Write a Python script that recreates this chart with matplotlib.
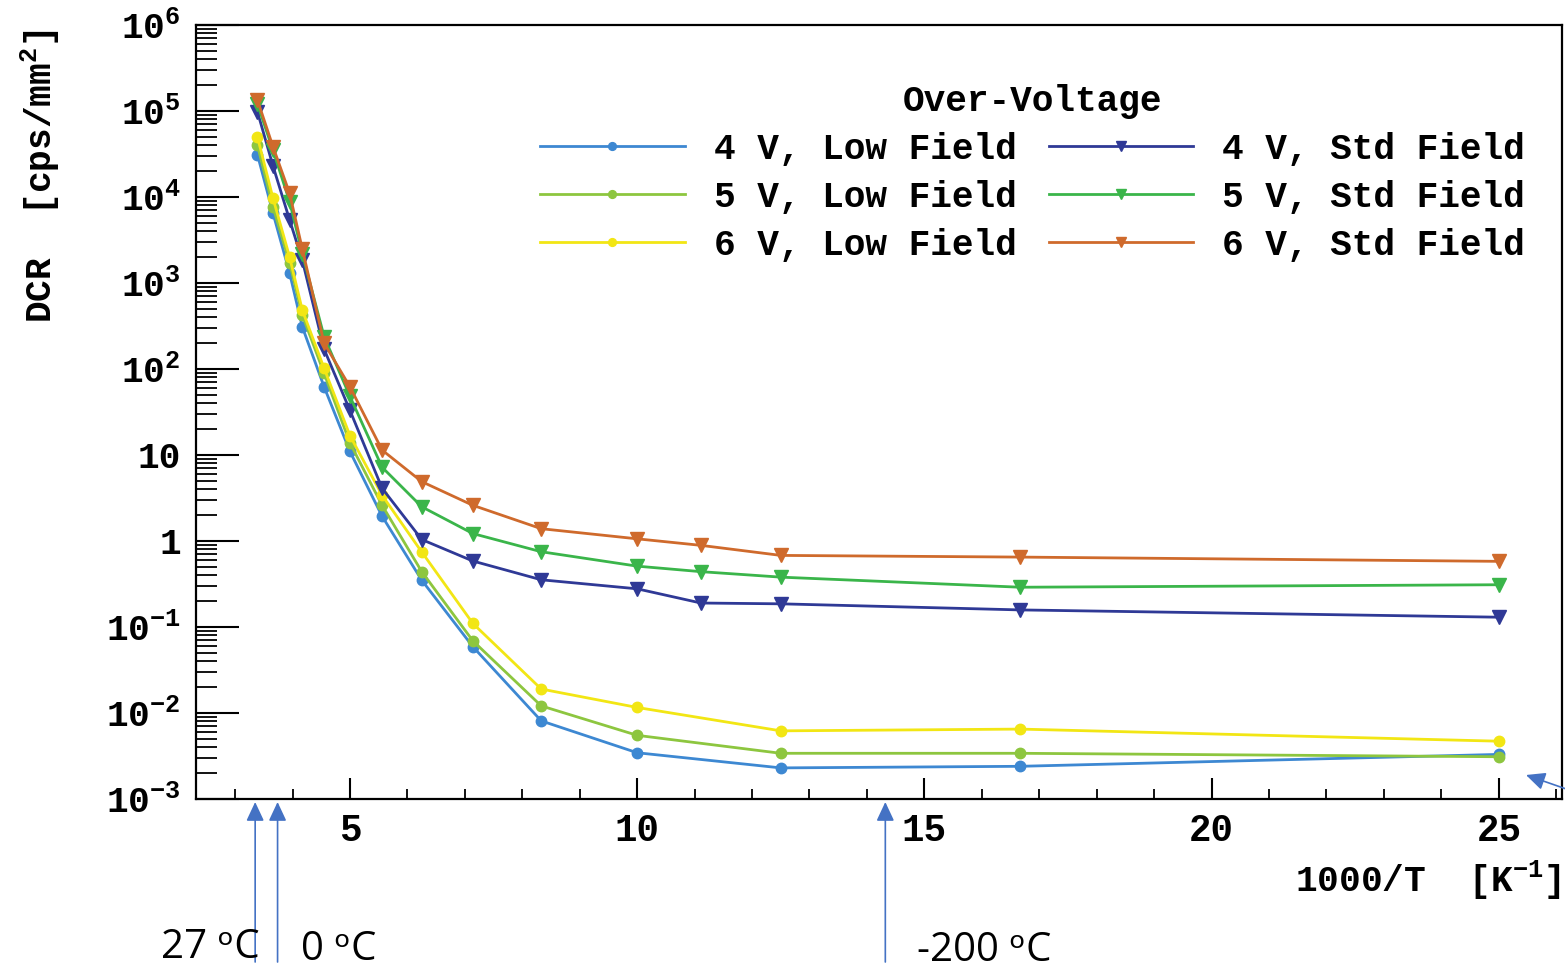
import matplotlib
matplotlib.use("Agg")
import matplotlib.pyplot as plt
from matplotlib.ticker import FixedLocator, FixedFormatter, MultipleLocator, LogLocator, NullFormatter

plt.rcParams['mathtext.fontset'] = 'custom'
plt.rcParams['mathtext.rm'] = 'Liberation Mono:bold'
plt.rcParams['mathtext.it'] = 'Liberation Mono:bold'
plt.rcParams['mathtext.bf'] = 'Liberation Mono:bold'
plt.rcParams['font.family'] = ['Liberation Mono']
plt.rcParams['font.weight'] = 'bold'

# ---------------- data ----------------
x_std = [3.39, 3.66, 3.95, 4.17, 4.55, 5.0, 5.56, 6.25, 7.14, 8.33, 10.0, 11.11, 12.5, 16.67, 25.0]
x_low = [3.39, 3.66, 3.95, 4.17, 4.55, 5.0, 5.56, 6.25, 7.14, 8.33, 10.0, 12.5, 16.67, 25.0]

low_4v = [3.1e4, 6.5e3, 1.3e3, 310, 62, 11, 1.94, 0.35, 0.059, 0.0081, 0.00345, 0.0023, 0.0024, 0.0033]
low_5v = [4.0e4, 7.7e3, 1.7e3, 425, 89, 13.8, 2.6, 0.44, 0.069, 0.0121, 0.0055, 0.0034, 0.0034, 0.0031]
low_6v = [5.0e4, 9.7e3, 2.0e3, 485, 102, 16.8, 3.4, 0.745, 0.11, 0.019, 0.0116, 0.0062, 0.0065, 0.0047]

std_4v = [9.8e4, 2.3e4, 5.4e3, 1.85e3, 170, 33, 4.1, 1.04, 0.585, 0.354, 0.278, 0.19, 0.186, 0.158, 0.13]
std_5v = [1.2e5, 3.5e4, 8.8e3, 2.2e3, 238, 48, 7.2, 2.5, 1.22, 0.75, 0.51, 0.44, 0.38, 0.29, 0.31]
std_6v = [1.34e5, 3.85e4, 1.1e4, 2.5e3, 200, 62, 11.4, 4.9, 2.6, 1.39, 1.06, 0.89, 0.68, 0.65, 0.58]

labels_low = ["4 V, Low Field", "5 V, Low Field", "6 V, Low Field"]
labels_std = ["4 V, Std Field", "5 V, Std Field", "6 V, Std Field"]
colors_low = ["#3d88d2", "#8dc63f", "#f2e614"]
colors_std = ["#2f3996", "#3ab54a", "#cf6a2c"]

y_ticks = [1e-3, 1e-2, 1e-1, 1, 10, 1e2, 1e3, 1e4, 1e5, 1e6]
y_ticklabels = [r"$10^{-3}$", r"$10^{-2}$", r"$10^{-1}$", "1", "10",
                r"$10^{2}$", r"$10^{3}$", r"$10^{4}$", r"$10^{5}$", r"$10^{6}$"]
x_ticks = [5, 10, 15, 20, 25]

arrow_x = [3.35, 3.74, 14.32]
arrow_labels = ["27 ᵒC", "0 ᵒC", "-200 ᵒC"]

# ---------------- figure ----------------
W, H = 1565, 974
fig = plt.figure(figsize=(W / 100, H / 100), dpi=100)
ax = fig.add_axes([196 / W, 1 - 799 / H, (1562 - 196) / W, (799 - 25) / H])

for xs, ys, c, lab in zip([x_low] * 3, [low_4v, low_5v, low_6v], colors_low, labels_low):
    ax.plot(xs, ys, '-o', color=c, lw=2.0, ms=7.5, label=lab)
for xs, ys, c, lab in zip([x_std] * 3, [std_4v, std_5v, std_6v], colors_std, labels_std):
    ax.plot(xs, ys, '-v', color=c, lw=2.0, ms=9.5, label=lab)

ax.set_yscale('log')
ax.set_xlim(2.32, 26.1)
ax.set_ylim(1e-3, 1e6)

ax.yaxis.set_major_locator(FixedLocator(y_ticks))
ax.yaxis.set_major_formatter(FixedFormatter(y_ticklabels))
ax.yaxis.set_minor_locator(LogLocator(base=10, subs=range(2, 10), numticks=30))
ax.yaxis.set_minor_formatter(NullFormatter())
ax.xaxis.set_major_locator(FixedLocator(x_ticks))
ax.xaxis.set_minor_locator(MultipleLocator(1))

ax.tick_params(axis='y', which='major', direction='in', length=31, width=1.5,
               labelsize=26, pad=11)
ax.tick_params(axis='y', which='minor', direction='in', length=15, width=1.3)
ax.tick_params(axis='x', which='major', direction='in', length=15, width=1.5,
               labelsize=27, pad=10)
ax.tick_params(axis='x', which='minor', direction='in', length=7.5, width=1.3)
for lab in ax.get_xticklabels() + ax.get_yticklabels():
    lab.set_fontweight('bold')
for s in ax.spines.values():
    s.set_linewidth(1.6)

fig.text(40 / W, 1 - 176 / H, r"DCR  [cps/mm$^{2}$]", rotation=90, ha='center', va='center',
         fontsize=26, fontweight='bold')
fig.text(1561 / W, 1 - 880 / H, r"1000/T  [K$^{-1}$]", ha='right', va='center',
         fontsize=26, fontweight='bold')

handles, labels = ax.get_legend_handles_labels()
leg = ax.legend(handles, labels, ncol=2, title="Over-Voltage", frameon=False,
                loc='upper right', bbox_to_anchor=(1543 / W, 1 - 66 / H),
                bbox_transform=fig.transFigure, borderpad=0,
                prop={'family': 'Liberation Mono', 'weight': 'bold', 'size': 26},
                title_fontproperties={'family': 'Liberation Mono', 'weight': 'bold', 'size': 26},
                handlelength=4.0, handletextpad=0.8, columnspacing=0.9,
                labelspacing=0.36, markerscale=0.75)

# temperature arrows
acol = "#4472c4"
for xv in arrow_x:
    ax.annotate('', xy=(xv, H - 802), xycoords=('data', 'figure pixels'),
                xytext=(xv, H - 962), textcoords=('data', 'figure pixels'),
                arrowprops=dict(arrowstyle='-|>,head_length=0.77,head_width=0.36',
                                mutation_scale=15, color=acol, lw=1.2,
                                shrinkA=0, shrinkB=0),
                annotation_clip=False)
for txt, tx, ty in zip(arrow_labels, [210, 339, 984], [948, 950, 951]):
    fig.text(tx / W, 1 - ty / H, txt, ha='center', va='center', fontsize=29,
             fontweight='normal', family=['Open Sans', 'DejaVu Sans'])

# small arrow at right edge
fig.add_artist(matplotlib.patches.FancyArrowPatch(
    (1572, H - 791), (1526, H - 775), transform=None,
    arrowstyle='-|>,head_length=0.77,head_width=0.36', mutation_scale=15,
    color=acol, lw=1.2, shrinkA=0, shrinkB=0))

fig.savefig("out.png", dpi=100)
